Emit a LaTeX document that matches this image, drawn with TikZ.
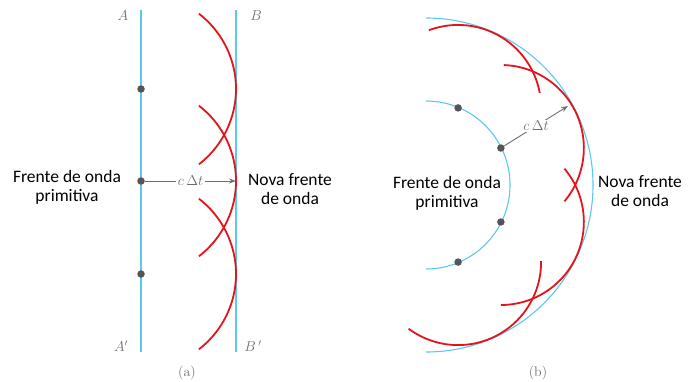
\documentclass[tikz,border=0pt]{standalone}
\usepackage{fontspec}
\newfontfamily\lab{Carlito}
\usetikzlibrary{arrows.meta,calc}
\definecolor{wblue}{HTML}{5CC8EE}
\definecolor{wred}{HTML}{E3141C}
\definecolor{dotc}{HTML}{555555}
\definecolor{lgrey}{HTML}{6E6E6E}
\begin{document}
\begin{tikzpicture}[x=1pt,y=1pt,
  front/.style={draw=wblue,line width=1.1pt},
  wave/.style={draw=wred,line width=1.8pt},
  src/.style={circle,fill=dotc,inner sep=0pt,minimum size=7.5pt},
  ray/.style={draw=lgrey,line width=0.9pt,-{Stealth[length=7pt,width=5pt]}},
  raylab/.style={fill=white,inner sep=1.5pt,text=lgrey,font=\fontsize{14}{16}\selectfont},
  letter/.style={text=lgrey,font=\fontsize{14}{16}\selectfont},
  subcap/.style={text=lgrey,font=\fontsize{14}{16}\selectfont},
  txt/.style={align=center,text=black,font=\lab\fontsize{17.5}{19}\selectfont}]
\useasboundingbox (0,0) rectangle (692,381);
% ---------- (a) ----------
\coordinate (Atop) at (141,371);
\coordinate (Abot) at (141,29);
\coordinate (Btop) at (236,371);
\coordinate (Bbot) at (236,29);
\draw[front] (Atop) -- (Abot);
\draw[front] (Btop) -- (Bbot);
\node[src] (a1) at (141,292) {};
\node[src] (a2) at (141,200) {};
\node[src] (a3) at (141,107) {};
\foreach \p in {a1,a2,a3}{
  \draw[wave] (\p) ++(52.4:95) arc[start angle=52.4,end angle=-52.4,radius=95];
}
\coordinate (aTip) at (236,200);
\draw[ray] (a2) -- node[raylab] (alab) {$c\,\Delta t$} (aTip);
\node[letter] (lA) at (123,365) {$A$};
\node[letter] (lB) at (256,365) {$B$};
\node[letter] (lA2) at (121,35) {$A'$};
\node[letter] (lB2) at (253,35) {$B\,'$};
\node[subcap] (capa) at (187,8) {(a)};
\node[txt] (ta1) at (67,194) {Frente de onda\\primitiva};
\node[txt] (ta2) at (290,192) {Nova frente\\de onda};
% ---------- (b) ----------
\coordinate (O) at (426,196);
\draw[front] (O) ++(90:167) arc[start angle=90,end angle=-90,radius=167];
\draw[front] (O) ++(90:84) arc[start angle=90,end angle=-90,radius=84];
\node[src] (b1) at ($(O)+(67.4:83.5)$) {};
\node[src] (b2) at ($(O)+(26.3:83.5)$) {};
\node[src] (b3) at ($(O)+(-26.3:83.5)$) {};
\node[src] (b4) at ($(O)+(-67.4:83.5)$) {};
\draw[wave] (b1) ++(110.6:83) arc[start angle=110.6,end angle=10.4,radius=83];
\draw[wave] (b2) ++(88:83) arc[start angle=88,end angle=-40,radius=83];
\draw[wave] (b3) ++(40:83) arc[start angle=40,end angle=-90,radius=83];
\draw[wave] (b4) ++(0.7:83) arc[start angle=0.7,end angle=-126.6,radius=83];
\coordinate (bTip) at (568,275);
\draw[ray] (b2) -- node[raylab] (blab) {$c\,\Delta t$} (bTip);
\node[subcap] (capb) at (538,8) {(b)};
\node[txt] (tb1) at (447,188) {Frente de onda\\primitiva};
\node[txt] (tb2) at (640,190) {Nova frente\\de onda};
\end{tikzpicture}
\end{document}
